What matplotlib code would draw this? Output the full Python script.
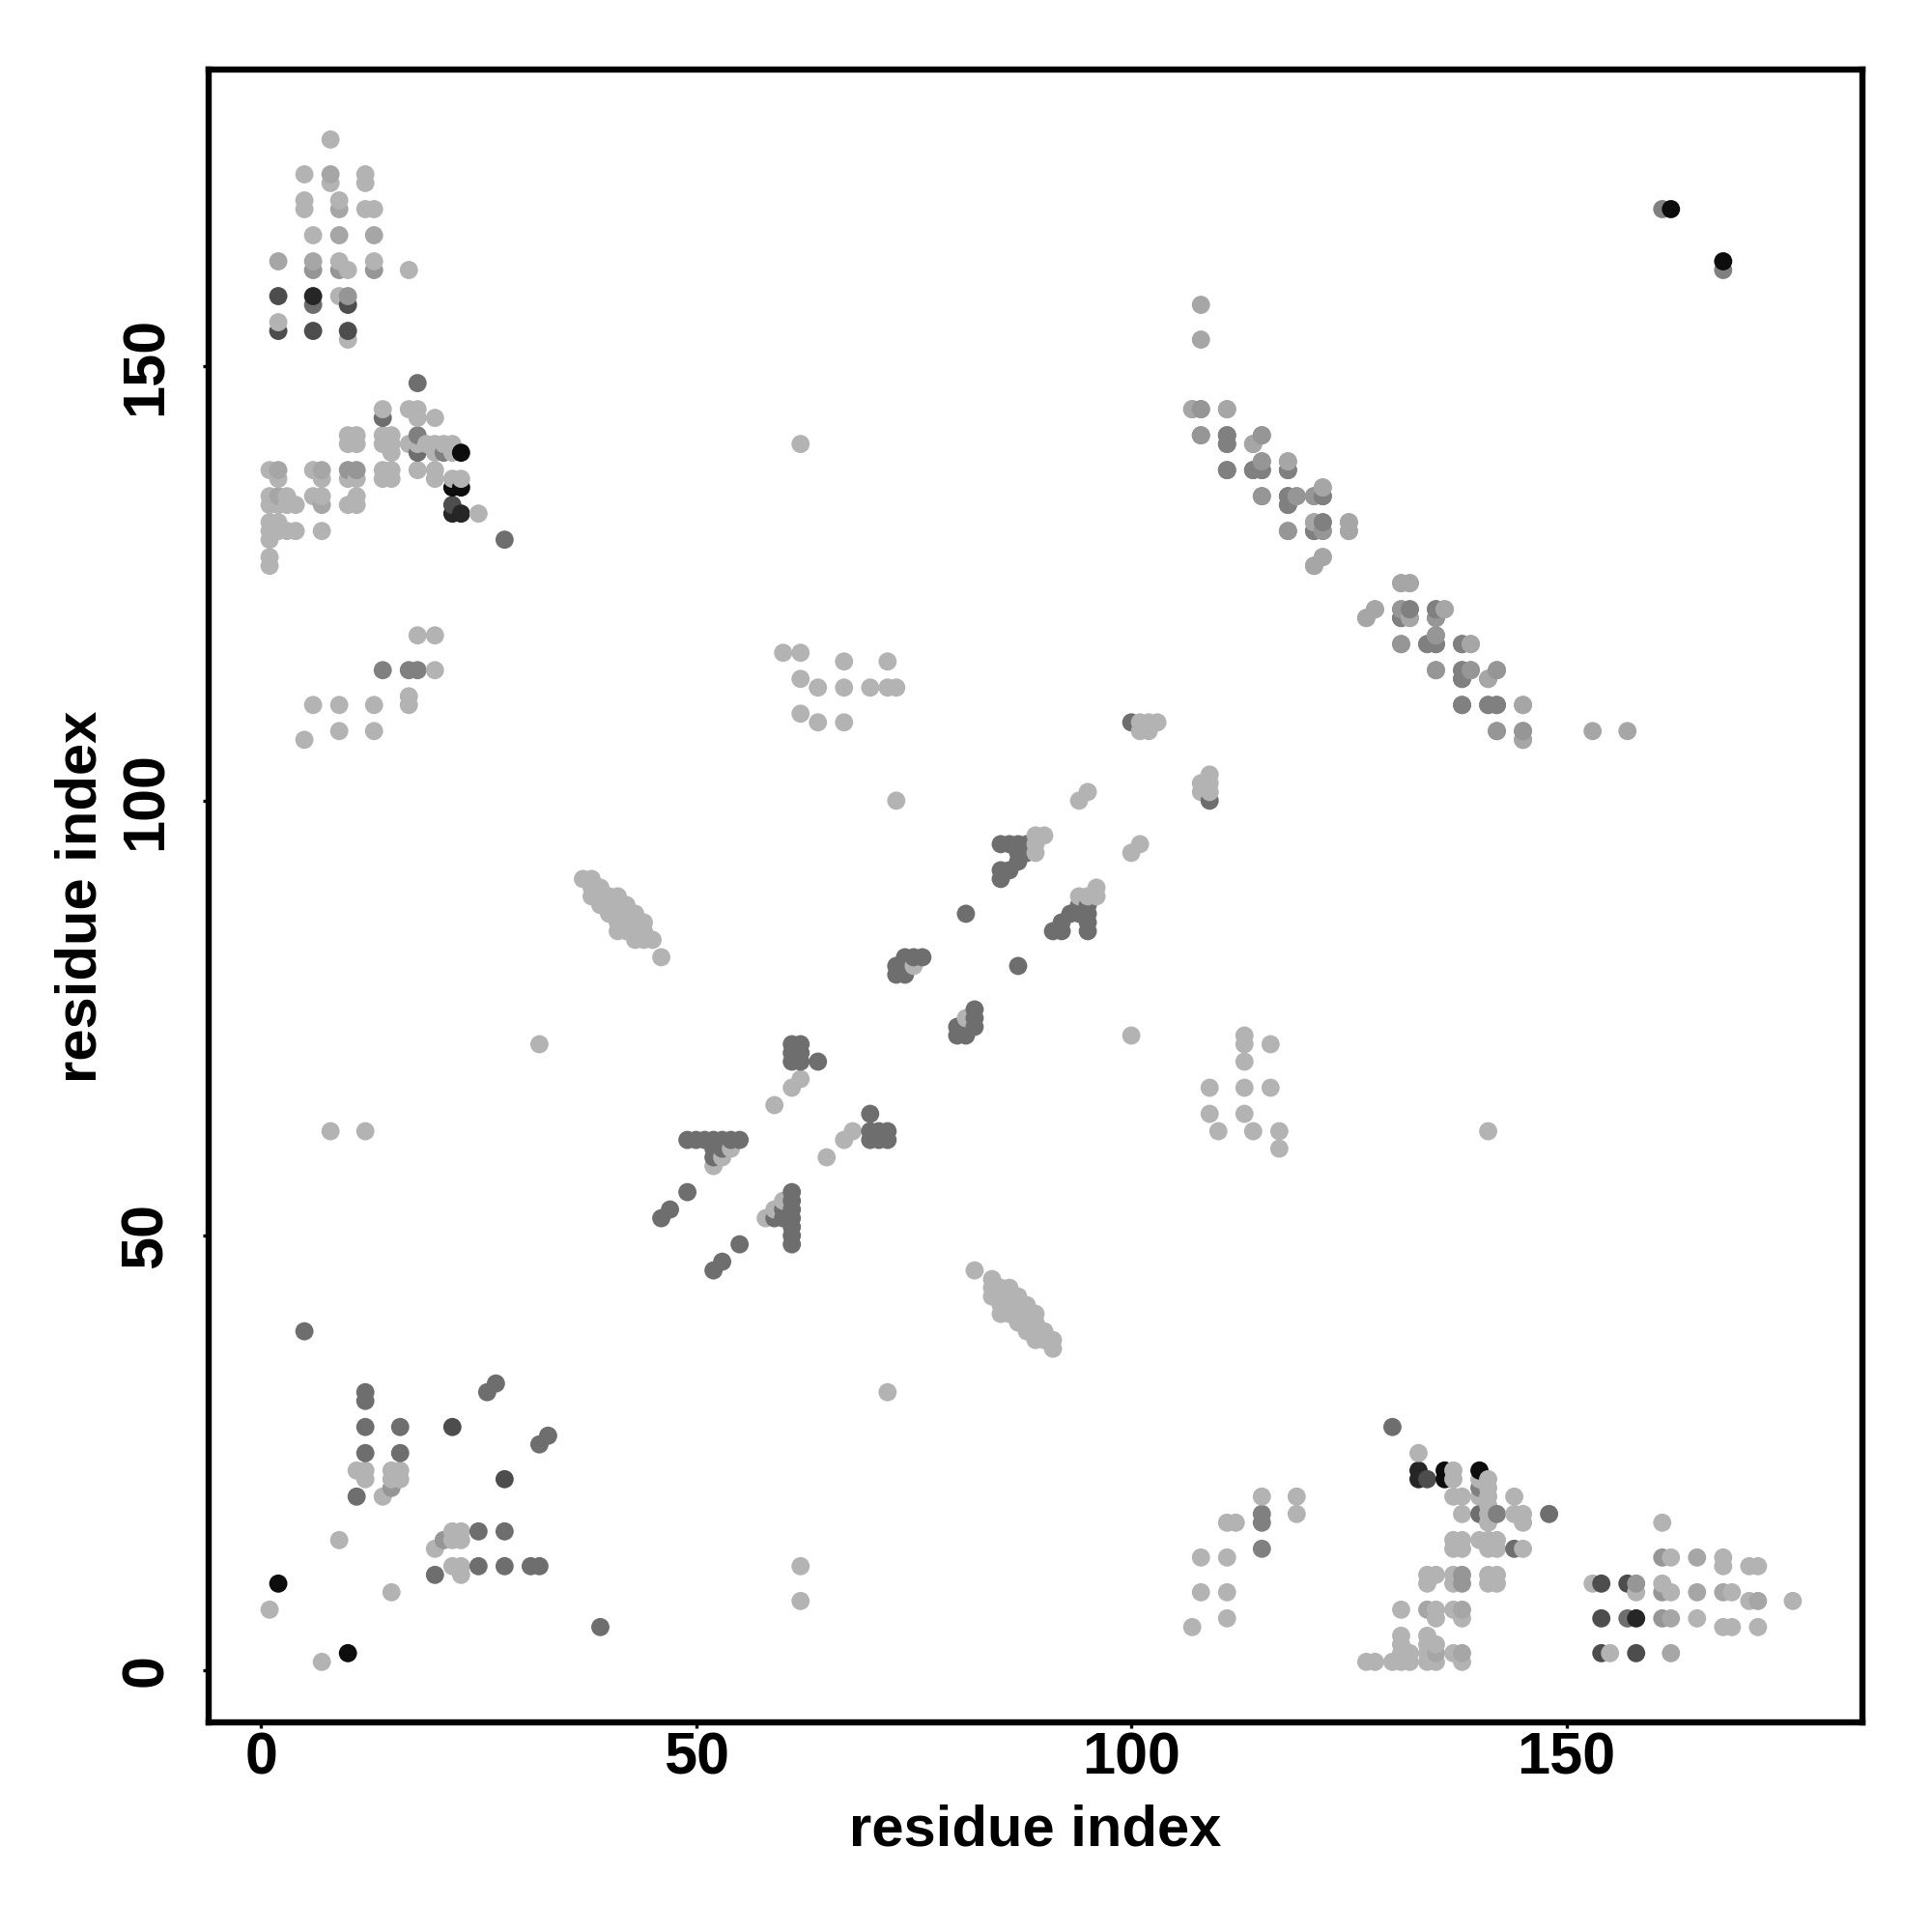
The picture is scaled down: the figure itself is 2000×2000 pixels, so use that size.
import matplotlib
matplotlib.use("Agg")
import matplotlib.pyplot as plt
import numpy as np

# contacts (i < j), grouped by grey level; each is drawn at (i, j) and (j, i)
contacts_70 = [
    (8,176),(5,172),(8,171),(12,172),(12,171),(5,169),(5,168),(9,169),(12,168),(13,168),
    (6,165),(9,162),(10,161),(13,162),(17,161),(9,158),(2,155),(10,153),
    (14,145),(17,145),(18,145),(18,144),(20,144),(10,142),(11,142),(10,141),(11,141),
    (14,142),(15,142),(14,141),(15,141),(15,140),(17,141),(18,141),(19,141),(20,141),
    (20,140),(21,141),(22,141),(22,140),(1,138),(2,137),(6,138),(7,137),(10,137),(11,137),
    (14,138),(15,138),(14,137),(15,137),(18,138),(20,138),(20,137),(22,137),(23,137),
    (1,135),(3,135),(1,134),(2,134),(3,134),(4,134),(6,135),(7,135),(10,134),(11,135),
    (11,134),(25,133),(1,132),(2,132),(1,131),(2,131),(3,131),(4,131),(1,130),(7,131),
    (1,128),(1,127),
    (5,107),(6,111),(9,111),(9,108),(13,111),(13,108),(17,111),(17,112),(18,119),(20,119),
    (20,115),(60,117),(62,117),(62,114),(62,110),(64,113),(64,109),(67,116),(67,113),
    (67,109),(70,113),(72,116),(72,113),(73,113),(73,100),(32,72),(62,141),
    (8,62),(12,62),(1,7),(9,15),(14,20),(12,22),(12,23),(11,23),(15,22),(15,23),(16,22),
    (16,23),
    (37,91),(38,91),(38,90),(39,90),(38,89),(39,89),(40,89),(41,89),(39,88),(40,88),(41,88),
    (42,88),(40,87),(41,87),(42,87),(43,87),(41,86),(42,86),(43,86),(44,86),(41,85),(42,85),
    (43,85),(44,85),(43,84),(44,84),(45,84),(46,82),
    (89,95),(89,96),(90,96),(89,94),(94,100),(95,101),(54,60),(53,59),(52,58),(62,68),
    (61,67),(59,65),(75,81),(101,109),(102,109),(103,109),(101,108),(102,108),
]
contacts_65 = [
    (8,172),(9,168),(9,165),(13,165),(2,162),(6,162),(2,138),(7,138),(2,135),(7,134),
    (107,145),(111,145),(114,141),(118,139),(122,136),(121,132),(125,132),(125,131),
    (122,128),(121,127),(131,125),(132,125),(127,121),(128,122),(132,121),(136,122),
    (139,118),(141,114),(145,111),(145,107),(153,108),(157,108),(135,119),
]
contacts_59 = [
    (108,145),(115,139),(115,135),(119,135),(121,135),(122,131),(118,131),(131,122),
    (135,121),(131,118),(134,118),(135,115),(138,115),(139,115),(142,108),(145,108),
    (108,142),(115,142),(122,132),(142,115),(141,111),
    (6,161),(9,161),(13,161),(10,158),(10,138),(11,138),(15,21),
]
contacts_50 = [
    (111,142),(111,141),(111,138),(114,138),(115,138),(118,138),(118,135),(118,134),
    (121,131),(122,135),(131,121),(132,122),(135,122),(135,118),(138,118),(138,114),
    (138,111),(142,111),(18,142),(21,140),(161,168),(14,115),(17,115),(18,115),
]
contacts_43 = [
    (6,157),(14,144),(18,148),(18,140),(28,130),(5,39),
    (11,20),(12,25),(12,28),(12,31),(12,32),(16,25),(16,28),(26,32),(27,33),
    (85,95),(86,95),(87,95),(88,95),(85,92),(85,91),(86,92),(87,93),(87,94),(88,94),
    (81,87),(46,52),(47,53),(49,55),(49,61),(50,61),(51,61),(52,61),(53,61),(54,61),(55,61),
    (52,60),(53,60),(52,59),(64,70),(61,70),(62,70),(61,71),(62,71),(61,72),(62,72),
    (73,80),(73,81),(74,80),(74,82),(75,82),(76,82),(100,109),
]
contacts_30 = [(2,158),(2,154),(6,154),(10,154),(22,134),(22,28),(10,157)]
contacts_15 = [(6,158),(22,133),(23,133)]
contacts_05 = [(23,140),(22,136),(23,136),(2,10),(162,168)]

groups = [contacts_70, contacts_65, contacts_59, contacts_50,
          contacts_43, contacts_30, contacts_15, contacts_05]
grey_levels = [0.70, 0.65, 0.59, 0.50, 0.43, 0.30, 0.15, 0.05]

ticks = [0, 50, 100, 150]

xs, ys, gs = [], [], []
for grp, g in zip(groups, grey_levels):
    for i, j in grp:
        xs += [i, j]
        ys += [j, i]
        gs += [g, g]
xs = np.array(xs)
ys = np.array(ys)
gs = np.array(gs)
# later residues are drawn over earlier ones
order = np.lexsort((ys, xs))

plt.rcParams["font.family"] = ["Liberation Sans", "DejaVu Sans"]
plt.rcParams["font.weight"] = "bold"

fig = plt.figure(figsize=(10, 10), dpi=200)
ax = fig.add_axes([0.108, 0.1083, 0.856, 0.8555])
ax.scatter(xs[order], ys[order], s=46, c=[str(v) for v in gs[order]], linewidths=0, clip_on=False)

ax.set_xlim(-6, 184)
ax.set_ylim(-6, 184)
ax.set_xticks(ticks)
ax.set_yticks(ticks)
ax.tick_params(axis="x", length=2.2, width=1.2, labelsize=22, pad=1)
ax.tick_params(axis="y", length=2.2, width=1.2, labelsize=22, pad=10.5)
for lab in ax.get_yticklabels():
    lab.set_rotation(90)
    lab.set_rotation_mode("anchor")
    lab.set_ha("center")
    lab.set_va("bottom")
for s in ax.spines.values():
    s.set_linewidth(2.3)

ax.set_xlabel("residue index", fontsize=21.5, fontweight="bold")
ax.set_ylabel("residue index", fontsize=21.5, fontweight="bold")
ax.xaxis.set_label_coords(0.5, -0.049)
ax.yaxis.set_label_coords(-0.061, 0.5)

plt.savefig("out.png", dpi=200)
plt.close()
